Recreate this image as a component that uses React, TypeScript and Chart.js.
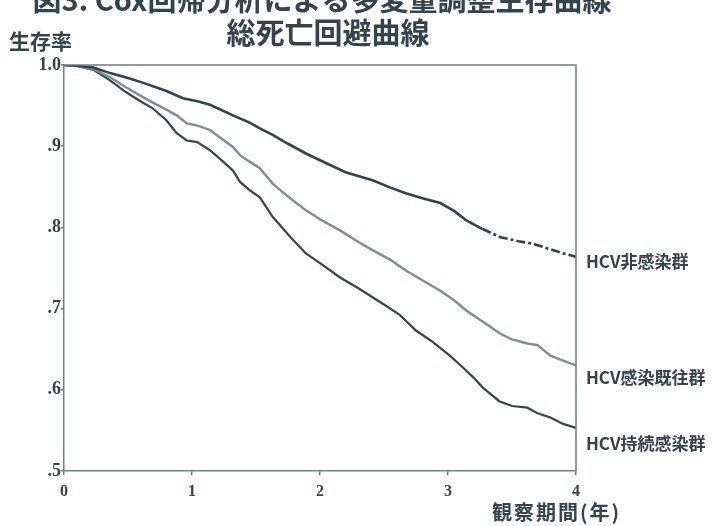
import React, { useEffect, useRef } from "react";
import { Chart, registerables } from "chart.js";

Chart.register(...registerables);

const supTitle = "図3. Cox回帰分析による多変量調整生存曲線";
const mainTitle = "総死亡回避曲線";
const yAxisTitle = "生存率";
const xAxisTitle = "観察期間(年)";
const seriesNames = ["HCV非感染群", "HCV感染既往群", "HCV持続感染群"];

const xTicks = [0, 1, 2, 3, 4];
const xTickLabels = ["0", "1", "2", "3", "4"];
const yTicks = [0.5, 0.6, 0.7, 0.8, 0.9, 1.0];
const yTickLabels = [".5", ".6", ".7", ".8", ".9", "1.0"];

const tNon = [0, 0.1, 0.23, 0.36, 0.5, 0.62, 0.8, 0.93, 1.05, 1.14, 1.32, 1.45, 1.53, 1.63, 1.75, 1.89, 2.05, 2.2, 2.41, 2.55, 2.67, 2.8, 2.94, 3.05, 3.14, 3.27, 3.41, 3.55, 3.66, 3.8, 3.9, 4.0];
const vNon = [1.0, 0.999, 0.997, 0.99, 0.984, 0.978, 0.968, 0.959, 0.955, 0.951, 0.938, 0.929, 0.922, 0.914, 0.903, 0.891, 0.879, 0.868, 0.858, 0.849, 0.842, 0.836, 0.83, 0.82, 0.809, 0.798, 0.788, 0.783, 0.78, 0.773, 0.768, 0.764];

const tPast = [0, 0.1, 0.23, 0.36, 0.48, 0.6, 0.69, 0.8, 0.88, 0.96, 1.05, 1.14, 1.25, 1.32, 1.375, 1.45, 1.53, 1.63, 1.75, 1.89, 2.0, 2.16, 2.3, 2.41, 2.55, 2.67, 2.8, 2.94, 3.05, 3.14, 3.27, 3.41, 3.5, 3.62, 3.7, 3.8, 3.9, 4.0];
const vPast = [1.0, 0.999, 0.995, 0.985, 0.973, 0.962, 0.954, 0.945, 0.938, 0.928, 0.925, 0.92, 0.907, 0.899, 0.889, 0.881, 0.873, 0.854, 0.838, 0.821, 0.81, 0.796, 0.782, 0.772, 0.76, 0.747, 0.735, 0.722, 0.71, 0.698, 0.684, 0.669, 0.662, 0.657, 0.655, 0.642, 0.636, 0.63];

const tPers = [0, 0.1, 0.23, 0.36, 0.48, 0.6, 0.69, 0.8, 0.88, 0.96, 1.04, 1.14, 1.25, 1.32, 1.375, 1.45, 1.53, 1.63, 1.77, 1.89, 2.0, 2.16, 2.3, 2.41, 2.5, 2.625, 2.75, 2.88, 3.0, 3.1, 3.2, 3.27, 3.4, 3.5, 3.62, 3.7, 3.8, 3.9, 4.0];
const vPers = [1.0, 0.999, 0.994, 0.981, 0.967, 0.955, 0.947, 0.932, 0.916, 0.907, 0.905, 0.895, 0.88, 0.87, 0.856, 0.846, 0.837, 0.813, 0.788, 0.768, 0.756, 0.738, 0.725, 0.714, 0.705, 0.692, 0.673, 0.659, 0.644, 0.63, 0.615, 0.603, 0.586, 0.58, 0.578, 0.571, 0.566, 0.558, 0.553];

const colors = ["#2e4450", "#7f8d92", "#34464f"];

const textColor = "#34444c";
const cjkFont = '"Noto Sans CJK JP", "Noto Sans", sans-serif';
const serifFont = '"Liberation Serif", "DejaVu Serif", serif';

function toPoints(t: number[], v: number[]) {
  return t.map((x, i) => ({ x, y: v[i] }));
}

const overlayPlugin = {
  id: "overlay",
  afterDraw(chart: any) {
    const { ctx, chartArea, scales } = chart;
    ctx.save();
    // frame top & right
    ctx.strokeStyle = "#6f7e84";
    ctx.lineWidth = 1.5;
    ctx.beginPath();
    ctx.moveTo(chartArea.left, chartArea.top);
    ctx.lineTo(chartArea.right, chartArea.top);
    ctx.lineTo(chartArea.right, chartArea.bottom);
    ctx.stroke();

    ctx.fillStyle = textColor;
    ctx.textAlign = "center";
    ctx.textBaseline = "alphabetic";
    ctx.font = `bold 29px ${cjkFont}`;
    ctx.fillText(supTitle, 322, 11);
    ctx.textBaseline = "middle";
    ctx.fillText(mainTitle, 328, 33);

    ctx.textAlign = "left";
    ctx.font = `bold 21px ${cjkFont}`;
    ctx.fillText(yAxisTitle, 9, 41);

    ctx.font = `bold 20px ${cjkFont}`;
    ctx.textAlign = "left";
    (ctx as any).letterSpacing = "2px";
    ctx.fillText(xAxisTitle, 492, 512);
    (ctx as any).letterSpacing = "0px";

    // series labels at right end
    ctx.textAlign = "left";
    ctx.font = `bold 17px ${cjkFont}`;
    const ends = [vNon[vNon.length - 1], vPast[vPast.length - 1], vPers[vPers.length - 1]];
    const offs = [5, 12, 16];
    seriesNames.forEach((n, i) => {
      const y = scales.y.getPixelForValue(ends[i]) + offs[i];
      ctx.fillText(n, chartArea.right + 10, y);
    });
    ctx.restore();
  },
};

export default function App() {
  const ref = useRef<HTMLCanvasElement | null>(null);
  useEffect(() => {
    document.body.style.margin = "0";
    const canvas = ref.current!;
    const chart = new Chart(canvas, {
      type: "line",
      data: {
        datasets: [
          {
            label: seriesNames[0],
            data: toPoints(tNon, vNon),
            borderColor: colors[0],
            borderWidth: 2.6,
            pointRadius: 0,
            segment: {
              borderDash: (c: any) => (c.p0.parsed.x >= 3.27 ? [9, 3, 3, 3] : undefined),
            },
          },
          {
            label: seriesNames[1],
            data: toPoints(tPast, vPast),
            borderColor: colors[1],
            borderWidth: 2.4,
            pointRadius: 0,
          },
          {
            label: seriesNames[2],
            data: toPoints(tPers, vPers),
            borderColor: colors[2],
            borderWidth: 2.2,
            pointRadius: 0,
          },
        ],
      },
      options: {
        animation: false,
        responsive: false,
        maintainAspectRatio: false,
        layout: { padding: { top: 65, right: 145, left: 0, bottom: 0 } },
        plugins: { legend: { display: false }, tooltip: { enabled: false }, title: { display: false } },
        scales: {
          x: {
            type: "linear",
            min: 0,
            max: 4,
            afterFit: (s: any) => {
              s.height = 55;
            },
            afterBuildTicks: (s: any) => {
              s.ticks = xTicks.map((v) => ({ value: v }));
            },
            ticks: {
              callback: (v: any) => xTickLabels[xTicks.indexOf(Number(v))] ?? "",
              font: { family: serifFont, size: 16, weight: "bold" },
              color: textColor,
              padding: 7,
              maxRotation: 0,
            },
            grid: { drawOnChartArea: false, tickLength: 4, color: "#6f7e84", lineWidth: 1.5 },
            border: { color: "#6f7e84", width: 1.5 },
          },
          y: {
            type: "linear",
            min: 0.5,
            max: 1.0,
            afterFit: (s: any) => {
              s.width = 64;
            },
            afterBuildTicks: (s: any) => {
              s.ticks = yTicks.map((v) => ({ value: v }));
            },
            ticks: {
              callback: (v: any) => {
                const i = yTicks.findIndex((t) => Math.abs(t - Number(v)) < 1e-6);
                return i >= 0 ? yTickLabels[i] : "";
              },
              font: { family: serifFont, size: 18, weight: "bold" },
              color: textColor,
              padding: 0,
            },
            grid: { drawOnChartArea: false, tickLength: 3, color: "#6f7e84", lineWidth: 1.5 },
            border: { color: "#6f7e84", width: 1.5 },
          },
        },
      },
      plugins: [overlayPlugin],
    });
    return () => chart.destroy();
  }, []);
  return (
    <div style={{ position: "absolute", left: 0, top: 0, width: 721, height: 526, background: "#fff" }}>
      <canvas ref={ref} width={721} height={526} style={{ width: 721, height: 526, display: "block" }} />
    </div>
  );
}
